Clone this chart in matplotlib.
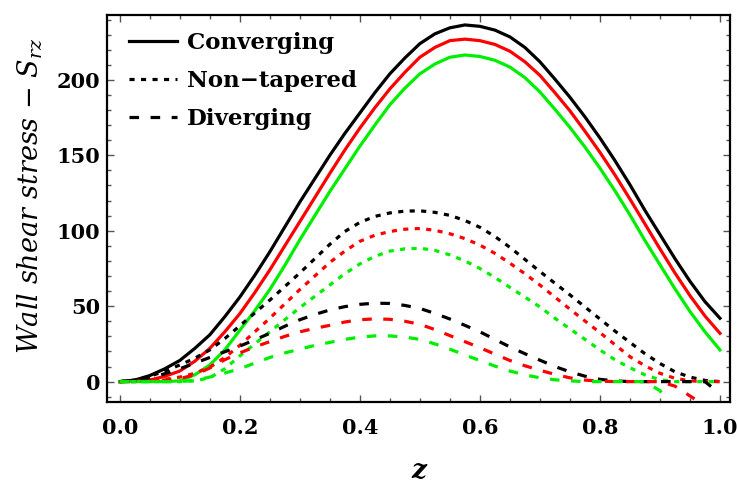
import numpy as np
import matplotlib
matplotlib.use("Agg")
import matplotlib.pyplot as plt
from matplotlib.lines import Line2D
from matplotlib.ticker import MultipleLocator

plt.rcParams["font.family"] = ["DejaVu Serif"]
plt.rcParams["mathtext.fontset"] = "dejavuserif"

# axial positions along the artery (step 0.025)
z = np.linspace(0.0, 1.0, 41)

# converging (solid)
conv_black = [0, 1, 4, 8.5, 14, 22, 31, 43, 56, 70.5, 86, 102.5, 119, 134.5,
              150, 164.5, 178, 191.5, 204, 214.5, 224, 230.5, 234.5, 236.4,
              235.5, 233, 228.5, 221.5, 212, 200.5, 188.5, 175.5, 161.5,
              146.5, 130.5, 113.5, 97.5, 81.5, 66.5, 53, 42]
conv_red = [0, 0.2, 1, 3.5, 7, 13.5, 22, 33, 45, 59, 74, 90, 106, 122,
            138, 153.5, 168, 181.5, 194, 205, 215, 221.5, 226, 227,
            226, 223.5, 219, 212, 203, 191.5, 179.5, 166, 152,
            137, 121, 104.5, 88, 72, 57, 43.5, 32]
conv_green = [0, 0, 0, 0, 0.5, 4.5, 11, 21, 34, 47, 61, 77, 94, 110,
              126, 141, 156, 170, 183.5, 194.5, 204, 210.5, 215, 216.5,
              215.5, 213, 208.5, 201.5, 192, 180.5, 168.5, 155.5, 141.5,
              126.5, 110.5, 93.5, 77.5, 61.5, 46.5, 33, 21]

# non-tapered (dotted)
nont_black = [0, 1, 3.5, 7, 11, 15.5, 21, 28.5, 37, 45.5, 54, 63, 72, 81.5,
              91, 99.5, 105.5, 109.5, 111.8, 113, 113.2, 112.2, 110.2, 106.8,
              102.3, 96.2, 89, 81, 73, 65.2, 57.5, 49.5, 41.5,
              33.5, 26, 18.5, 12, 6.5, 3, 0.8, 0]
nont_red = [0, 0, 0.5, 1.5, 3, 5.5, 9.5, 16, 24, 33, 42, 51.5, 61, 70,
            79, 86.5, 93, 97, 99.5, 101, 101.5, 100.3, 98, 94.8,
            90.5, 85, 78.5, 71.5, 64, 56, 48, 40.2, 32.5,
            24.5, 16.5, 10.5, 5.5, 2.2, 0.5, 0, 0]
nont_green = [0, 0, 0, 0, 0, 0.5, 2.5, 8.5, 17, 25, 33, 41, 49, 56.5,
              64, 71.5, 78, 83, 86.5, 88, 88.4, 87, 84, 80,
              75, 69, 62.5, 56, 49.5, 42, 35, 28, 21,
              14.5, 9.2, 4.5, 1.2, 0, 0, 0, 0]

# diverging (dashed)
div_black = [0, 0.7, 2.5, 5.2, 8.5, 12.2, 16, 19.8, 23.5, 27.7, 32, 36.7, 41, 44.5,
             47.5, 49.7, 51.2, 52, 51.8, 50.5, 48.5, 45.2, 41.5, 37.3,
             33, 28, 23, 18.5, 14.2, 10, 6.5, 3.6, 1.5,
             0.5, 0, 0, 0, 0, 0, 0, -8]
div_red = [0, 0, 0.3, 1, 2, 4.5, 9, 14.5, 19, 23, 26.5, 30, 33, 35.3,
           37.3, 39.5, 41, 41.6, 41.3, 40, 38, 34.5, 30.5, 26.5,
           22.5, 18.2, 14, 10.5, 7.5, 4.8, 2.5, 1, 0.3,
           0, 0, 0, 0, -3, -9.5, -16, -24]
div_green = [0, 0, 0, 0, 0, 0.8, 3, 5.7, 8.5, 12.3, 16, 19, 21.5, 24,
             26, 28, 29.5, 30.3, 30.3, 29.5, 28, 25, 21.5, 17.7,
             14, 10.3, 7, 4.5, 2.5, 1.2, 0.5, 0, 0,
             0, 0, 0, -6, -20, np.nan, np.nan, np.nan]

colors = ["black", "red", "#00ee00"]
lw = 2.3
dotted = (1.6, 2.0)
dashed = (3.0, 3.6)

fig = plt.figure(figsize=(7.37, 4.87), dpi=100)
ax = fig.add_axes([0.1452, 0.1752, 0.9905 - 0.1452, 0.9692 - 0.1752])

for ys, c in zip([conv_black, conv_red, conv_green], colors):
    ax.plot(z, ys, color=c, lw=lw, solid_joinstyle="round")
for ys, c in zip([nont_black, nont_red, nont_green], colors):
    ax.plot(z, ys, color=c, lw=lw, dashes=dotted)
for ys, c in zip([div_black, div_red, div_green], colors):
    ax.plot(z, ys, color=c, lw=lw, dashes=dashed)

ax.set_xlim(-0.0212, 1.0167)
ax.set_ylim(-13.3, 243)

ax.xaxis.set_major_locator(MultipleLocator(0.2))
ax.xaxis.set_minor_locator(MultipleLocator(0.05))
ax.yaxis.set_major_locator(MultipleLocator(50))
ax.yaxis.set_minor_locator(MultipleLocator(10))
ax.xaxis.set_major_formatter(lambda v, p: f"{v:.1f}")
ax.yaxis.set_major_formatter(lambda v, p: f"{v:.0f}")

ax.tick_params(which="both", direction="in", top=True, right=True,
               color="#555555", width=1.0)
ax.tick_params(which="major", length=5)
ax.tick_params(which="minor", length=3)
ax.tick_params(axis="x", which="major", pad=12, labelsize=15)
ax.tick_params(axis="y", which="major", pad=5, labelsize=15)
for lab in ax.get_xticklabels() + ax.get_yticklabels():
    lab.set_fontweight("bold")

for sp in ax.spines.values():
    sp.set_linewidth(1.6)

ax.set_ylabel("Wall shear stress − $S_{rz}$", fontsize=19.5, fontstyle="italic")
ax.yaxis.set_label_coords(-0.10, 0.532)
ax.set_xlabel("z", fontsize=19, fontstyle="italic", fontweight="bold")
ax.xaxis.set_label_coords(0.5, -0.145)

handles = [
    Line2D([], [], color="black", lw=lw),
    Line2D([], [], color="black", lw=lw, dashes=dotted),
    Line2D([], [], color="black", lw=lw, dashes=dashed),
]
ax.legend(handles, ["Converging", "Non−tapered", "Diverging"],
          loc="upper left", bbox_to_anchor=(0.035, 0.957), frameon=False,
          borderpad=0, borderaxespad=0, handlelength=2.1, handletextpad=0.45,
          labelspacing=0.71, prop={"weight": "bold", "size": 16.5})

fig.savefig("out.png", dpi=100)
